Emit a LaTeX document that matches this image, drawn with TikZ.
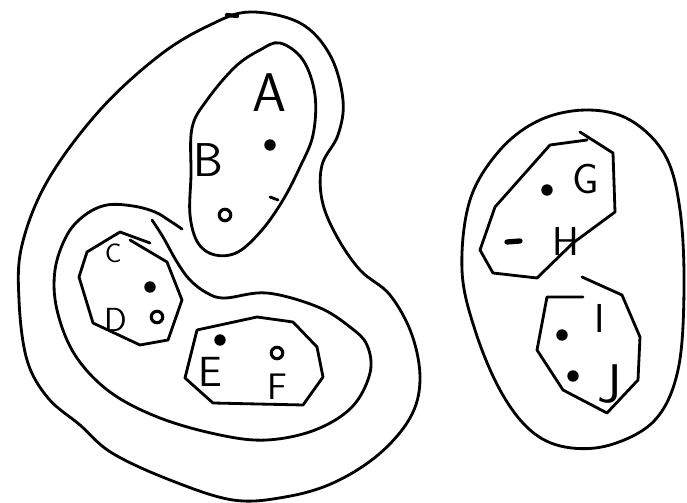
\documentclass[tikz,border=0pt]{standalone}
\usepackage{tikz}
\tikzset{
  hand/.style={
    line width=1.6pt,
    line join=round,
    line cap=round,
    draw=black
  },
  lbl/.style={
    font=\fontsize{#1}{#1}\selectfont\sffamily,
    inner sep=0pt
  },
  lbl/.default=24,
  blob/.style={
    circle,
    fill=black,
    inner sep=0pt,
    minimum size=6.5pt
  },
  ring/.style={
    circle,
    draw=black,
    line width=1.8pt,
    inner sep=0pt,
    minimum size=6.5pt
  }
}

\begin{document}
\begin{tikzpicture}[x=0.02cm,y=-0.02cm]
  \useasboundingbox (0,0) rectangle (687,503);

  % big cluster on the left
  \draw[hand] plot[smooth cycle,tension=0.6] coordinates {
    (250,12) (300,23) (330,55) (343,100) (338,135) (322,165) (322,200)
    (336,235) (360,270) (390,295) (412,335) (420,380) (410,418) (378,455)
    (333,483) (285,497) (233,500) (170,480) (112,453) (80,425) (48,398)
    (27,360) (19,300) (22,245) (48,180) (100,110) (160,55) (210,25)};
  \draw[hand,line width=2.4pt] (227,15) -- (237,16);

  % cluster of A and B
  \draw[hand] plot[smooth cycle,tension=0.6] coordinates {
    (280,43) (303,60) (315,95) (313,135) (300,167) (283,200) (262,230)
    (238,252) (215,255) (198,243) (190,215) (191,175) (192,128) (207,100)
    (235,67) (260,50)};
  \draw[hand] (270,197) -- (278,200);

  % cluster round C, D, E and F
  \draw[hand] plot[smooth,tension=0.6] coordinates {
    (182,229) (170,221) (155,212) (133,206) (107,205) (85,215) (67,235)
    (55,270) (57,310) (75,355) (110,392) (160,418) (220,435) (267,440)
    (315,430) (352,407) (370,373) (367,345) (350,327) (318,307) (267,293)
    (225,298) (207,293) (190,280) (177,262) (163,237) (152,220)};

  % cluster of C and D
  \draw[hand] (150,243) -- (120,232) -- (87,252) -- (79,277) -- (93,323)
    -- (140,345) -- (168,340) -- (182,300) -- (167,262) -- (130,240);

  % cluster of E and F
  \draw[hand] (197,330) -- (257,317) -- (293,322) -- (317,347) -- (323,377)
    -- (303,405) -- (213,403) -- (185,378) -- cycle;

  % cluster on the right
  \draw[hand] plot[smooth cycle,tension=0.6] coordinates {
    (587,110) (630,120) (665,155) (680,210) (684,290) (678,370) (655,420)
    (610,445) (565,447) (530,430) (500,390) (475,330) (462,270) (470,200)
    (500,150) (540,120)};

  % cluster of G and H
  \draw[hand] (587,140) -- (550,145) -- (495,207) -- (480,250) -- (493,273)
    -- (537,278) -- (573,243) -- (615,212) -- (613,153) -- (580,132);

  % cluster of I and J
  \draw[hand] (583,297) -- (547,297) -- (537,350) -- (563,390) -- (607,413)
    -- (638,380) -- (640,337) -- (622,295) -- (582,277);

  % labels
  \node[lbl=31] (labA) at (270,93) {A};
  \node[lbl=27] (labB) at (208,160) {B};
  \node[lbl=15] (labC) at (113,253) {C};
  \node[lbl=19] (labD) at (116,320) {D};
  \node[lbl=24] (labE) at (210,372) {E};
  \node[lbl=21] (labF) at (277,387) {F};
  \node[lbl=24] (labG) at (586,179) {G};
  \node[lbl=23] (labH) at (566,241) {H};
  \node[lbl=23] (labI) at (600,318) {I};
  \node[lbl=31] (labJ) at (610,384) {J};

  % points
  \node[blob] (ptA) at (270,145) {};
  \node[ring] (ptB) at (225,215) {};
  \node[blob] (ptC) at (150,287) {};
  \node[ring] (ptD) at (157,317) {};
  \node[blob] (ptE) at (220,340) {};
  \node[ring] (ptF) at (277,353) {};
  \node[blob] (ptG) at (547,190) {};
  \node[blob] (ptI) at (562,335) {};
  \node[blob] (ptJ) at (573,376) {};
  \draw[hand,line width=3pt] (507,242) -- (520,241);
\end{tikzpicture}
\end{document}
